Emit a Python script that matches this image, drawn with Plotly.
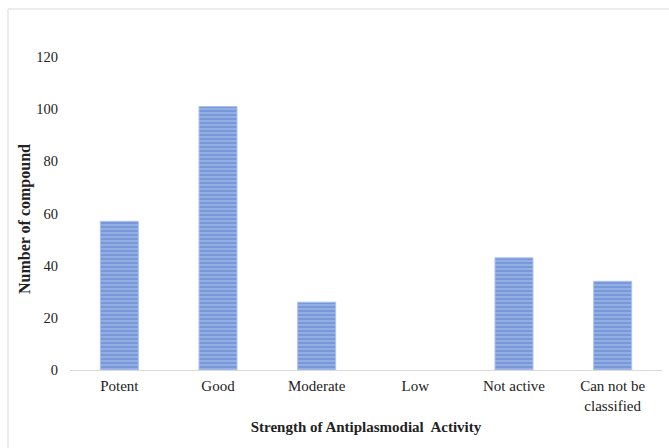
import plotly.graph_objects as go

categories = ["Potent", "Good", "Moderate", "Low", "Not active", "Can not be<br>classified"]
counts = [57, 101, 26, 0, 43, 34]
y_ticks = [0, 20, 40, 60, 80, 100, 120]

FONT = "Liberation Serif, Times New Roman, serif"
TEXT = "#222222"

# chart geometry in pixels
W, H = 669, 448
ML, MR, MT, MB = 70, 7, 57, 78
plot_w = W - ML - MR
plot_h = H - MT - MB


def px_x(px):
    return (px - ML) / plot_w


def px_y(py):
    return (H - MB - py) / plot_h


fig = go.Figure(
    go.Bar(
        x=categories,
        y=counts,
        width=0.385,
        marker=dict(
            color="#8eaadf",
            line=dict(color="#a9c1ee", width=[0 if v == 0 else 1 for v in counts]),
            pattern=dict(shape="-", fgcolor="#5078cc", bgcolor="#93aee2",
                         size=4, solidity=0.4),
        ),
        hoverinfo="x+y",
    )
)

fig.update_layout(
    width=W,
    height=H,
    margin=dict(l=ML, r=MR, t=MT, b=MB),
    paper_bgcolor="white",
    plot_bgcolor="white",
    showlegend=False,
    font=dict(family=FONT, size=15, color=TEXT),
    bargap=0.6,
)

fig.update_xaxes(
    showline=True,
    linecolor="#d9d9d9",
    linewidth=1,
    showgrid=False,
    ticks="",
    ticklabelstandoff=2,
    tickfont=dict(family=FONT, size=15, color=TEXT),
    title=dict(text="<b>Strength of Antiplasmodial  Activity</b>",
               font=dict(family=FONT, size=15, color=TEXT), standoff=8),
)

fig.update_yaxes(
    range=[0, 120],
    tickvals=y_ticks,
    showline=False,
    showgrid=False,
    zeroline=False,
    ticks="",
    ticklabelstandoff=11,
    tickfont=dict(family=FONT, size=14.5, color=TEXT),
)

fig.add_annotation(
    text="<b>Number of compound</b>",
    textangle=-90,
    xref="paper", yref="paper",
    x=px_x(25), y=px_y(219),
    xanchor="center", yanchor="middle",
    showarrow=False,
    font=dict(family=FONT, size=16, color=TEXT),
)

# thin frame lines along the top and left of the chart area
fig.add_shape(type="line", xref="paper", yref="paper",
              x0=px_x(8), x1=px_x(W), y0=px_y(9), y1=px_y(9),
              line=dict(color="#d9d9d9", width=1))
fig.add_shape(type="line", xref="paper", yref="paper",
              x0=px_x(8), x1=px_x(8), y0=px_y(H), y1=px_y(9),
              line=dict(color="#d9d9d9", width=1))

fig.write_html("out.html")
